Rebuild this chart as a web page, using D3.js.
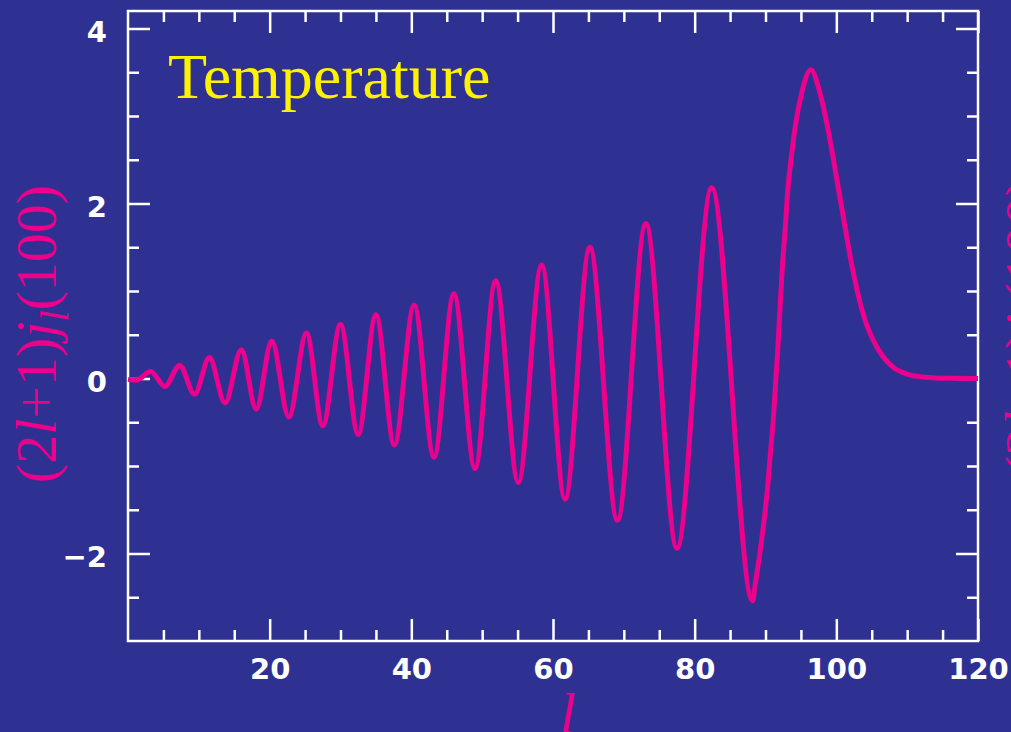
<!DOCTYPE html>
<html>
<head>
<meta charset="utf-8">
<script src="https://cdn.jsdelivr.net/npm/d3@7"></script>
<style>
  html, body { margin: 0; padding: 0; background: #2e3192; overflow: hidden; }
  svg { display: block; }
</style>
</head>
<body>
<div id="chart"></div>
<script>
// values: l and (2l+1) j_l(100)
var lValues = [0, 1.2, 3.2, 5.2, 7.3, 9.4, 11.5, 13.7, 16.0, 18.1, 20.3, 22.7, 25.2, 27.5, 30.0, 32.5,
    35.0, 37.6, 40.4, 43.2, 46.0, 49.0, 51.9, 55.1, 58.4, 61.7, 65.2, 69.1, 73.1, 77.5, 82.4, 88.2,
    88.5, 89.2, 89.8, 90.3, 90.7, 91.1, 91.4, 91.7, 92.4, 92.8, 93.1, 93.6, 94.2, 95.1, 96.4,
    97.7, 98.7, 99.6, 100.4, 101.3, 102.1, 102.9, 104.0, 105.2, 106.5, 108.0, 110.0, 112.5, 116.0, 120.0];
var jValues = [-0.01, -0.02, 0.08, -0.09, 0.15, -0.18, 0.24, -0.28, 0.33, -0.35, 0.43, -0.44, 0.52, -0.54, 0.62, -0.64,
    0.73, -0.76, 0.84, -0.90, 0.97, -1.03, 1.12, -1.19, 1.30, -1.38, 1.50, -1.62, 1.77, -1.94, 2.18, -2.54,
    -2.38, -2.00, -1.62, -1.24, -0.85, -0.47, -0.09, 0.29, 1.30, 1.73, 2.10, 2.50, 2.88, 3.26, 3.53,
    3.26, 2.90, 2.50, 2.12, 1.70, 1.33, 1.02, 0.68, 0.44, 0.26, 0.13, 0.05, 0.015, 0.003, 0.0];

var xMajorTicks = [20, 40, 60, 80, 100, 120];
var xMinorTicks = [5, 10, 15, 25, 30, 35, 45, 50, 55, 65, 70, 75, 85, 90, 95, 105, 110, 115];
var yMajorTicks = [-2, 0, 2, 4];
var yMinorTicks = [-2.5, -1.5, -1, -0.5, 0.5, 1, 1.5, 2.5, 3, 3.5];

var width = 1011;
var height = 732;
var plotLeft = 128, plotRight = 978, plotTop = 11, plotBottom = 641;

var bg = "#2e3192";
var magenta = "#ec008c";
var yellow = "#fff200";
var serif = "'Liberation Serif', 'Times New Roman', serif";

var svg = d3.select("#chart").append("svg")
    .attr("width", width)
    .attr("height", height);

svg.append("rect")
    .attr("width", width)
    .attr("height", height)
    .attr("fill", bg);

var x = d3.scaleLinear().domain([0, 120]).range([plotLeft, plotRight]);
var y = d3.scaleLinear().domain([-3, 4.2]).range([plotBottom, plotTop]);

function styleAxis(g) {
    g.select(".domain").remove();
    g.selectAll("line").attr("stroke", "white").attr("stroke-width", 2.5);
    g.selectAll("text")
        .attr("fill", "white")
        .style("font-family", "'DejaVu Sans', sans-serif")
        .style("font-size", "29px")
        .style("font-weight", "bold");
}

// major ticks with labels
svg.append("g")
    .attr("transform", "translate(0," + plotBottom + ")")
    .call(d3.axisBottom(x).tickValues(xMajorTicks).tickSizeInner(-22).tickSizeOuter(0).tickPadding(17))
    .call(styleAxis);

svg.append("g")
    .attr("transform", "translate(" + plotLeft + ",0)")
    .call(d3.axisLeft(y).tickValues(yMajorTicks).tickSizeInner(-22).tickSizeOuter(0).tickPadding(21))
    .call(styleAxis)
    .selectAll("text").attr("dy", "0.45em");

// mirrored ticks top/right
svg.append("g")
    .attr("transform", "translate(0," + plotTop + ")")
    .call(d3.axisTop(x).tickValues(xMajorTicks).tickSizeInner(-22).tickSizeOuter(0).tickFormat(""))
    .call(styleAxis);

svg.append("g")
    .attr("transform", "translate(" + plotRight + ",0)")
    .call(d3.axisRight(y).tickValues(yMajorTicks).tickSizeInner(-22).tickSizeOuter(0).tickFormat(""))
    .call(styleAxis);

// minor ticks
svg.append("g")
    .attr("transform", "translate(0," + plotBottom + ")")
    .call(d3.axisBottom(x).tickValues(xMinorTicks).tickSizeInner(-11).tickSizeOuter(0).tickFormat(""))
    .call(styleAxis);
svg.append("g")
    .attr("transform", "translate(0," + plotTop + ")")
    .call(d3.axisTop(x).tickValues(xMinorTicks).tickSizeInner(-11).tickSizeOuter(0).tickFormat(""))
    .call(styleAxis);
svg.append("g")
    .attr("transform", "translate(" + plotLeft + ",0)")
    .call(d3.axisLeft(y).tickValues(yMinorTicks).tickSizeInner(-11).tickSizeOuter(0).tickFormat(""))
    .call(styleAxis);
svg.append("g")
    .attr("transform", "translate(" + plotRight + ",0)")
    .call(d3.axisRight(y).tickValues(yMinorTicks).tickSizeInner(-11).tickSizeOuter(0).tickFormat(""))
    .call(styleAxis);

// frame
svg.append("rect")
    .attr("x", plotLeft)
    .attr("y", plotTop)
    .attr("width", plotRight - plotLeft)
    .attr("height", plotBottom - plotTop)
    .attr("fill", "none")
    .attr("stroke", "white")
    .attr("stroke-width", 2.5);

// the curve
var points = lValues.map(function (l, i) { return [l, jValues[i]]; });
var line = d3.line()
    .x(function (d) { return x(d[0]); })
    .y(function (d) { return y(d[1]); })
    .curve(d3.curveMonotoneX);

svg.append("path")
    .datum(points)
    .attr("d", line)
    .attr("fill", "none")
    .attr("stroke", magenta)
    .attr("stroke-width", 5)
    .attr("stroke-linejoin", "round");

// title
svg.append("text")
    .attr("x", 168)
    .attr("y", 98)
    .attr("fill", yellow)
    .style("font-family", serif)
    .style("font-size", "64px")
    .text("Temperature");

// axis labels
svg.append("text")
    .attr("x", 568)
    .attr("y", 733)
    .attr("text-anchor", "middle")
    .attr("fill", magenta)
    .style("font-family", serif)
    .style("font-style", "italic")
    .style("font-size", "58px")
    .text("l");

function yLabel(cx, cy) {
    var t = svg.append("text")
        .attr("transform", "translate(" + cx + "," + cy + ") rotate(-90)")
        .attr("text-anchor", "middle")
        .attr("fill", magenta)
        .style("font-family", serif)
        .style("font-size", "58px");
    t.append("tspan").text("(2");
    t.append("tspan").style("font-style", "italic").text("l");
    t.append("tspan").text("+1)");
    t.append("tspan").style("font-style", "italic").text("j");
    t.append("tspan").style("font-style", "italic").style("font-size", "40px").attr("dy", 12).text("l");
    t.append("tspan").attr("dy", -12).text("(100)");
}

yLabel(56, 334);
yLabel(1045, 326);
</script>
</body>
</html>
